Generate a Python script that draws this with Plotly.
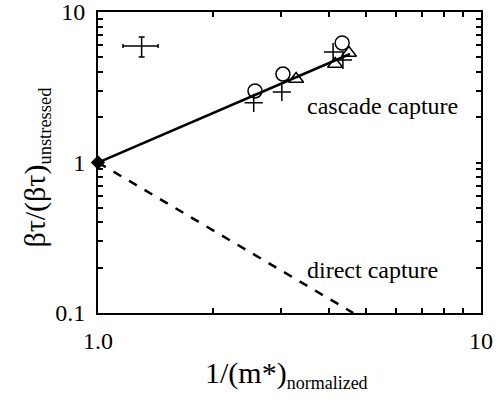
import plotly.graph_objects as go

# data
circle_x = [2.57, 3.04, 4.34]
circle_y = [2.99, 3.87, 6.22]
tri_x = [3.29, 4.16, 4.52]
tri_y = [3.59, 4.51, 5.34]
plus_x = [2.55, 3.02, 4.11, 4.36]
plus_y = [2.49, 2.94, 5.42, 4.80]

cascade_x = [1.0, 4.55]
cascade_y = [1.0, 5.26]
direct_x = [1.0, 4.64]
direct_y = [1.0, 0.1]

err_x, err_y = [1.30], [5.94]
err_xplus, err_xminus = [0.135], [0.138]
err_yplus, err_yminus = [0.88], [0.92]

x_ticks = [1, 2, 3, 4, 5, 6, 7, 8, 9, 10]
x_text = ["1.0", "", "", "", "", "", "", "", "", "10"]
y_ticks = [0.1, 0.2, 0.3, 0.4, 0.5, 0.6, 0.7, 0.8, 0.9,
           1, 2, 3, 4, 5, 6, 7, 8, 9, 10]
y_text = ["0.1", "", "", "", "", "", "", "", "",
          "1", "", "", "", "", "", "", "", "", "10"]

serif = "Liberation Serif"

fig = go.Figure()
fig.add_trace(go.Scatter(x=cascade_x, y=cascade_y, mode="lines",
                         line=dict(color="black", width=2.5)))
fig.add_trace(go.Scatter(x=direct_x, y=direct_y, mode="lines",
                         line=dict(color="black", width=2.5, dash="dash")))
fig.add_trace(go.Scatter(x=[1.0], y=[1.0], mode="markers", cliponaxis=False,
                         marker=dict(symbol="diamond", size=11, color="black")))
fig.add_trace(go.Scatter(x=circle_x, y=circle_y, mode="markers",
                         marker=dict(symbol="circle-open", size=14, color="black",
                                     line=dict(width=1.5))))
fig.add_trace(go.Scatter(x=tri_x, y=tri_y, mode="markers",
                         marker=dict(symbol="triangle-up-open", size=13, color="black",
                                     line=dict(width=1.5))))
fig.add_trace(go.Scatter(x=plus_x, y=plus_y, mode="markers",
                         marker=dict(symbol="cross-thin-open", size=13, color="black",
                                     line=dict(width=1.5, color="black"))))
fig.add_trace(go.Scatter(x=err_x, y=err_y, mode="markers",
                         marker=dict(size=0.1, color="black"),
                         error_x=dict(type="data", symmetric=False, array=err_xplus,
                                      arrayminus=err_xminus, color="black",
                                      thickness=1.5, width=2),
                         error_y=dict(type="data", symmetric=False, array=err_yplus,
                                      arrayminus=err_yminus, color="black",
                                      thickness=1.5, width=3)))

axis_common = dict(showgrid=False, zeroline=False, showline=True, linecolor="black",
                   linewidth=2, mirror="ticks", ticks="inside", ticklen=5,
                   tickwidth=1.5, tickcolor="black", ticklabeloverflow="allow",
                   automargin=False,
                   tickfont=dict(family=serif, size=24, color="black"))

fig.update_xaxes(type="log", range=[0, 1], tickmode="array", tickvals=x_ticks,
                 ticktext=x_text, ticklabelstandoff=5, **axis_common)
fig.update_yaxes(type="log", range=[-1, 1], tickmode="array", tickvals=y_ticks,
                 ticktext=y_text, ticklabelstandoff=6, **axis_common)

fig.add_annotation(text="cascade capture", xref="paper", yref="paper", x=0.744, y=0.688,
                   xanchor="center", yanchor="middle", showarrow=False,
                   font=dict(family=serif, size=24, color="black"))
fig.add_annotation(text="direct capture", xref="paper", yref="paper", x=0.718, y=0.143,
                   xanchor="center", yanchor="middle", showarrow=False,
                   font=dict(family=serif, size=24, color="black"))
fig.add_annotation(text="1/(m*)<sub><span style='font-size:18px'>normalized</span></sub>",
                   xref="paper", yref="paper", x=0.493, y=-0.205, showarrow=False,
                   xanchor="center", yanchor="middle",
                   font=dict(family=serif, size=30, color="black"))
fig.add_annotation(text="βτ/(βτ)<sub><span style='font-size:18.5px'>unstressed</span></sub>",
                   xref="paper", yref="paper", x=-0.163, y=0.485, showarrow=False,
                   xanchor="center", yanchor="middle", textangle=-90,
                   font=dict(family=serif, size=30, color="black"))

fig.update_layout(width=504, height=406, showlegend=False,
                  margin=dict(l=98, r=23, t=12, b=93),
                  plot_bgcolor="white", paper_bgcolor="white")

# drop the page's default body margin so the figure sits at the window corner
fig.write_html("out.html", config={"displayModeBar": False},
               post_script="document.body.style.margin='0';")
